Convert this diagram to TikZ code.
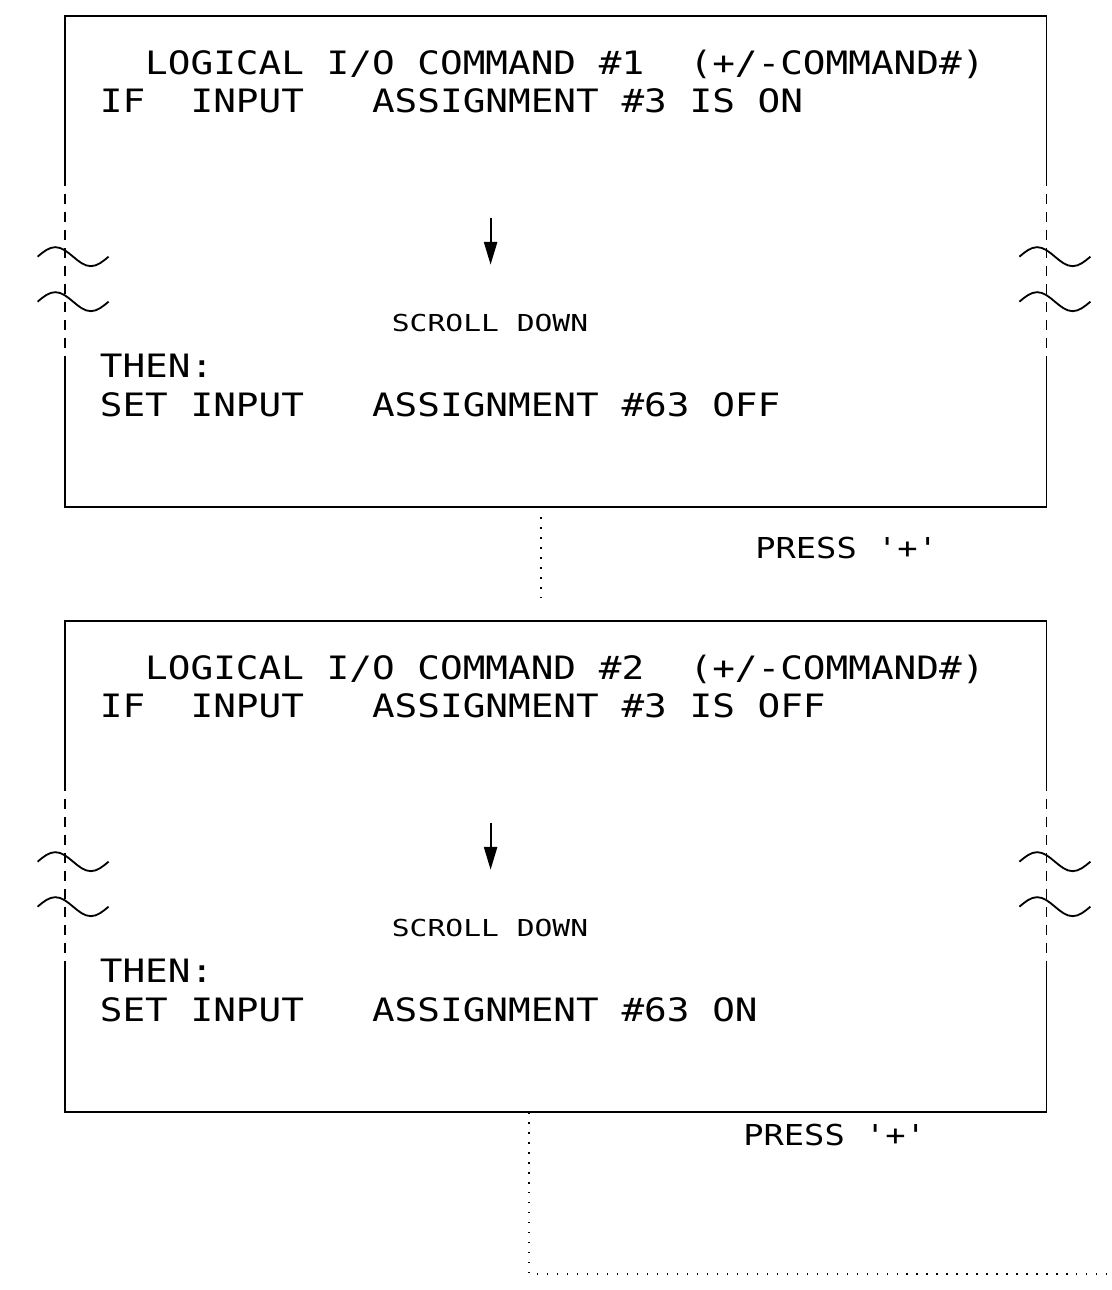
\documentclass[tikz,border=0pt]{standalone}
\usepackage{fontspec}
\usepackage{tikz}
\usetikzlibrary{arrows.meta, positioning, calc}
\newfontfamily\cadfont{DejaVu Sans Mono}[FakeStretch=1.17]
\newfontfamily\scrollfont{DejaVu Sans Mono}[FakeStretch=1.27]

\tikzset{
  panel/.style={minimum width=24.525cm, minimum height=12.275cm, inner sep=0pt},
  edge/.style={line width=1.3pt, black},
  breakdash/.style={dash pattern=on 2.5mm off 2mm},
  dotline/.style={line width=0.9pt, dash pattern=on 0.9pt off 6.2pt},
  screen/.style={anchor=base west, inner sep=0pt, font=\cadfont\fontsize{22.9}{27}\selectfont},
  hint/.style={anchor=base west, inner sep=0pt, font=\scrollfont\fontsize{16.6}{20}\selectfont},
  press/.style={anchor=base west, inner sep=0pt, font=\cadfont\fontsize{20.5}{24}\selectfont}
}

\begin{document}
\begin{tikzpicture}[x=0.025cm, y=-0.025cm]
\useasboundingbox (0,0) rectangle (1112,1290);

% the two display screens
\node[panel] (b1) at (555.5,261.5) {};
\node[panel] (b2) at (555.5,866.5) {};

\foreach \b/\n/\cond/\act in {b1/1/ON/OFF, b2/2/OFF/ON} {
  % outline, broken on both sides
  \draw[edge] ($(\b.north west)+(0,160)$) |- (\b.north east) -- ++(0,160);
  \draw[edge] ($(\b.south west)+(0,-141)$) |- (\b.south east) -- ++(0,-141);
  \foreach \s in {west,east} {
    \draw[edge, breakdash] ($(\b.north \s)+(0,160)$) -- ($(\b.south \s)+(0,-141)$);
    \foreach \h in {241,286}
      \draw[edge] ($(\b.north \s)+(-27,\h)$) sin ++(17.75,-9.5) cos ++(17.75,9.5)
        sin ++(17.75,9.5) cos ++(17.75,-9.5);
  }
  % text on the screen
  \node[screen] (cmd\n) at ($(\b.north west)+(35,59)$) {~~LOGICAL I/O COMMAND \#\n~~(+/-COMMAND\#)};
  \node[screen] (if\n) at ($(\b.north west)+(35,97)$) {IF~~INPUT~~~ASSIGNMENT \#3 IS \cond};
  \coordinate (up\n) at ($(\b.north west)+(426,202)$);
  \draw[edge, -{Triangle[length=5.7mm, width=3.3mm]}] (up\n) -- ++(0,47);
  \node[hint] (scroll\n) at ($(\b.north west)+(327,316)$) {SCROLL DOWN};
  \node[screen] (then\n) at ($(\b.north west)+(35,362)$) {THEN:};
  \node[screen] (set\n) at ($(\b.north west)+(35,401)$) {SET INPUT~~~ASSIGNMENT \#63 \act};
}

% key presses between screens
\node[press] (press1) at (755,558) {PRESS '+'};
\node[press] (press2) at (743,1145) {PRESS '+'};

\coordinate (d1) at (541,0);
\draw[dotline, shorten <=2.5mm, shorten >=4mm] (b1.south -| d1) -- (b2.north -| d1);
\coordinate (d2) at (529,0);
\coordinate (d2end) at (1112,1274);
\draw[dotline] (b2.south -| d2) |- (d2end);
\end{tikzpicture}
\end{document}
